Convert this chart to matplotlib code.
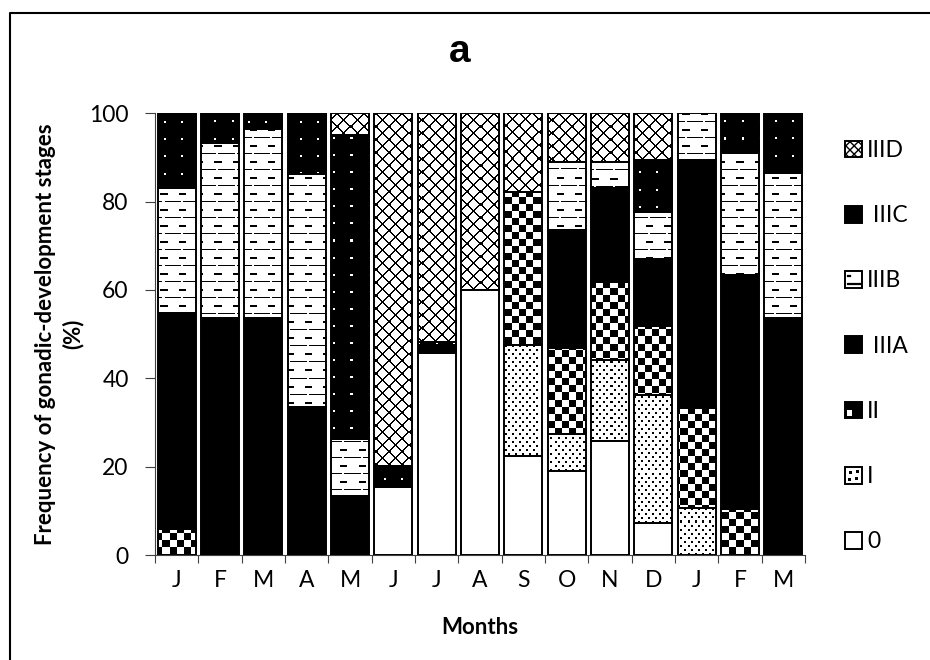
import numpy as np
import matplotlib
matplotlib.use('Agg')
import matplotlib.pyplot as plt
from matplotlib.patches import Patch, Rectangle
from matplotlib.lines import Line2D

plt.rcParams['font.family'] = ['Lato', 'DejaVu Sans']

months = ['J', 'F', 'M', 'A', 'M', 'J', 'J', 'A', 'S', 'O', 'N', 'D', 'J', 'F', 'M']
stages = ['0', 'I', 'II', 'IIIA', 'IIIB', 'IIIC', 'IIID']
legend_labels = ['0', 'I', 'II', ' IIIA', 'IIIB', ' IIIC', 'IIID']

s0 = [0, 0, 0, 0, 0, 15.5, 45.8, 60.0, 22.5, 19.0, 25.8, 7.2, 0, 0, 0]
s1 = [0, 0, 0, 0, 0, 0, 0, 0, 25.0, 8.3, 18.3, 29.0, 10.7, 0, 0]
s2 = [5.8, 0, 0, 0, 0, 0, 0, 0, 34.6, 19.6, 17.8, 15.7, 22.6, 10.4, 0]
s3a = [48.9, 53.7, 53.7, 33.6, 13.4, 0, 0, 0, 0, 26.7, 21.3, 15.1, 56.1, 53.0, 53.6]
s3b = [28.5, 39.5, 42.8, 52.7, 12.8, 0, 0, 0, 0, 15.4, 5.8, 10.6, 10.6, 27.5, 32.8]
s3c = [16.8, 6.8, 3.5, 13.7, 68.9, 4.6, 2.4, 0, 0, 0, 0, 11.8, 0, 9.1, 13.6]
s3d = [0, 0, 0, 0, 4.9, 79.9, 51.8, 40.0, 17.9, 11.0, 11.0, 10.6, 0, 0, 0]
series = [s0, s1, s2, s3a, s3b, s3c, s3d]

# --- pixel textures imitating the Excel fill patterns (1 = white, 0 = black)
W, H = 650, 442


def tile_dots():
    t = np.ones((8, 7))
    t[0:2, 0:2] = 0
    t[4:6, 3:5] = 0
    return t


def tile_checker():
    y, x = np.mgrid[0:14, 0:14]
    return (((y // 7) + (x // 7)) % 2).astype(float)


def tile_dashes():
    t = np.ones((16, 18))
    t[0:2, 5:12] = 0
    t[8:9, 0:7] = 0
    t[8:9, 9:18] = 0
    return t


def tile_black_dots():
    t = np.zeros((17, 17))
    t[8:10, 8:10] = 1
    return t


def tile_diamond():
    y, x = np.mgrid[0:13, 0:13]
    d1 = (x - y) % 13
    d2 = (x + y) % 13
    t = np.ones((13, 13))
    t[(d1 == 0) | (d1 == 12) | (d2 == 0) | (d2 == 12)] = 0
    t[0:2, 0:2] = 0
    t[6:8, 6:8] = 0
    return t


def texture(tile):
    reps = (H // tile.shape[0] + 1, W // tile.shape[1] + 1)
    return np.tile(tile, reps)[:H, :W]


textures = {
    'I': texture(tile_dots()),
    'II': texture(tile_checker()),
    'IIIB': texture(tile_dashes()),
    'IIIC': texture(tile_black_dots()),
    'IIID': texture(tile_diamond()),
}
fills = {'0': 'white', 'IIIA': 'black'}

fig = plt.figure(figsize=(9.3, 6.6), dpi=100)
ax = fig.add_axes([155 / 930, 1 - 555 / 660, 650 / 930, 441.7 / 660])

x = np.arange(len(months))
width = 0.88
bottom = np.zeros(len(months))
for name, vals in zip(stages, series):
    vals = np.array(vals, dtype=float)
    keep = vals > 0
    rects = ax.bar(x[keep], vals[keep], bottom=bottom[keep], width=width,
                   color=fills.get(name, 'white'), edgecolor='none', zorder=1)
    if name in textures:
        for r in rects:
            im = ax.imshow(textures[name], extent=(-0.5, 14.5, 0, 100), cmap='gray',
                           vmin=0, vmax=1, aspect='auto', interpolation='nearest', zorder=2)
            im.set_clip_path(r)
    ax.bar(x[keep], vals[keep], bottom=bottom[keep], width=width, fill=False,
           edgecolor='black', linewidth=1.4, zorder=3)
    bottom += vals

ax.set_xlim(-0.5, 14.5)
ax.set_ylim(0, 100)
ax.set_yticks(range(0, 101, 20))
ax.set_xticks(np.arange(-0.5, 15, 1))
ax.set_xticklabels([])
ax.set_xticks(x, minor=True)
ax.set_xticklabels(months, minor=True)
ax.tick_params(axis='x', which='major', length=6, color='#404040')
ax.tick_params(axis='x', which='minor', length=0, pad=11, labelsize=16.5)
ax.tick_params(axis='y', length=7, pad=12, labelsize=16.5, color='#404040')
for side in ['top', 'right']:
    ax.spines[side].set_visible(False)
for side in ['left', 'bottom']:
    ax.spines[side].set_color('#404040')

ax.set_xlabel('Months', fontsize=16, fontweight='bold', va='top')
ax.xaxis.set_label_coords(0.5, -0.14)
ax.set_ylabel('Frequency of gonadic-development stages\n(%)', fontsize=16,
              fontweight='bold', linespacing=1.35)
ax.yaxis.set_label_coords(-0.11, 0.5)

fig.text(460 / 930, 1 - 62.5 / 660, 'a', ha='center', va='baseline', fontsize=28,
         fontweight='bold', family=['Liberation Sans', 'DejaVu Sans'])

# chart-area border (only left and top edges fall inside the picture)
fig.add_artist(Line2D([10 / 930, 10 / 930, 1.0], [0, 1 - 12.7 / 660, 1 - 12.7 / 660],
                      transform=fig.transFigure, color='black', linewidth=1.5))


class SwatchHandler:
    def __init__(self, kind):
        self.kind = kind

    def legend_artist(self, legend, orig_handle, fontsize, handlebox):
        x0, y0 = -handlebox.xdescent, -handlebox.ydescent
        w, h = handlebox.width, handlebox.height
        tr = handlebox.get_transform()
        face = 'black' if self.kind in ('IIIA', 'IIIC', 'II') else 'white'
        hatch = 'xxxx' if self.kind == 'IIID' else None
        handlebox.add_artist(Rectangle((x0, y0), w, h, facecolor=face, edgecolor='black',
                                       linewidth=1.4, hatch=hatch, transform=tr))
        if self.kind == 'II':
            handlebox.add_artist(Rectangle((x0 + 0.12 * w, y0 + 0.12 * h), 0.3 * w, 0.38 * h,
                                           facecolor='white', edgecolor='none', transform=tr))
        elif self.kind == 'I':
            for dx, dy in [(0.25, 0.25), (0.65, 0.3), (0.3, 0.65), (0.7, 0.7)]:
                handlebox.add_artist(Rectangle((x0 + dx * w - 1, y0 + dy * h - 1), 2.2, 2.2,
                                               facecolor='black', edgecolor='none', transform=tr))
        elif self.kind == 'IIIB':
            handlebox.add_artist(Line2D([x0 + 0.2 * w, x0 + 0.9 * w], [y0 + 0.22 * h, y0 + 0.22 * h],
                                        color='black', linewidth=1.6, transform=tr))
            handlebox.add_artist(Line2D([x0 + 0.15 * w, x0 + 0.3 * w], [y0 + 0.7 * h, y0 + 0.7 * h],
                                        color='black', linewidth=1.6, transform=tr))
        return handlebox


handles = [Patch(label=lab) for lab in legend_labels]
hmap = {hd: SwatchHandler(st) for hd, st in zip(handles, stages)}
leg = ax.legend(handles[::-1], legend_labels[::-1], handler_map=hmap,
                loc='upper left', bbox_to_anchor=(845 / 930, 1 - 140 / 660),
                bbox_transform=fig.transFigure, frameon=False, fontsize=16.5,
                handlelength=0.75, handleheight=0.75, handletextpad=0.22,
                labelspacing=1.93, borderpad=0, borderaxespad=0)

fig.savefig('out.png', dpi=100)
